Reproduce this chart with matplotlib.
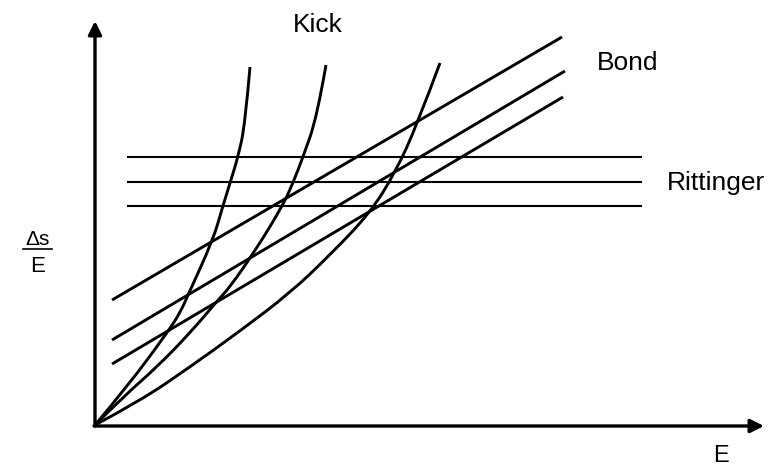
import matplotlib
matplotlib.use('Agg')
import matplotlib.pyplot as plt
from matplotlib.path import Path
from matplotlib.patches import PathPatch

plt.rcParams['font.family'] = ['Liberation Sans', 'DejaVu Sans']

# Kick: three curves through the origin (E, Δs/E)
kick_e = [
    [0, 32, 72, 85, 93, 118, 127, 135, 143, 150, 155],
    [0, 28, 62, 95, 123, 135, 160, 187, 198, 208, 222, 231],
    [0, 45, 95, 145, 195, 235, 275, 300, 322, 345],
]
kick_s = [
    [0, 38, 92, 112, 130, 185, 216, 242, 268, 300, 358],
    [0, 28, 58, 92, 125, 138, 174, 218, 242, 268, 308, 360],
    [0, 24, 58, 94, 132, 170, 212, 252, 300, 362],
]

# Bond: straight lines, start and end points
bond_e = [[17, 467], [17, 470], [17, 468]]
bond_s = [[125, 388], [85, 354], [61, 328]]

# Rittinger: horizontal levels
ritt_e = [32, 547]
ritt_s = [268, 243, 219]


def smooth_path(xs, ys):
    # quadratic bezier pieces: interior points act as control points
    pts = list(zip(xs, ys))
    verts = [pts[0]]
    codes = [Path.MOVETO]
    for i in range(1, len(pts) - 1):
        nxt = pts[i + 1] if i + 1 == len(pts) - 1 else (
            (pts[i][0] + pts[i + 1][0]) / 2, (pts[i][1] + pts[i + 1][1]) / 2)
        verts += [pts[i], nxt]
        codes += [Path.CURVE3, Path.CURVE3]
    return Path(verts, codes)


fig = plt.figure(figsize=(7.71, 4.66), dpi=100)
ax = fig.add_axes([0, 0, 1, 1])
ax.set_xlim(-95, 676)
ax.set_ylim(-41, 425)
ax.axis('off')

for e, s in zip(kick_e, kick_s):
    ax.add_patch(PathPatch(smooth_path(e, s), fill=False, edgecolor='black',
                           lw=2.1, capstyle='butt'))
for e, s in zip(bond_e, bond_s):
    ax.plot(e, s, color='black', lw=2.1, solid_capstyle='butt')
for s in ritt_s:
    ax.plot(ritt_e, [s, s], color='black', lw=1.5, solid_capstyle='butt')

# axes with arrow heads
arrow = dict(arrowstyle='-|>', lw=2.4, color='black', mutation_scale=20,
             shrinkA=0, shrinkB=0)
ax.annotate('', xy=(0, 404), xytext=(0, -1), arrowprops=arrow)
ax.annotate('', xy=(669, -1), xytext=(-1, -1), arrowprops=arrow)

ax.text(198, 393, 'Kick', fontsize=19, ha='left', va='baseline')
ax.text(502, 355, 'Bond', fontsize=19, ha='left', va='baseline')
ax.text(572, 235, 'Rittinger', fontsize=19, ha='left', va='baseline')
ax.text(618, -37, 'E', fontsize=17, ha='left', va='baseline')

# y label as a fraction
ax.text(-57.5, 180, 'Δs', fontsize=15, ha='center', va='baseline')
ax.plot([-72, -43], [176, 176], color='black', lw=1.2)
ax.text(-57.5, 153, 'E', fontsize=16, ha='center', va='baseline')

fig.savefig('out.png', dpi=100)
